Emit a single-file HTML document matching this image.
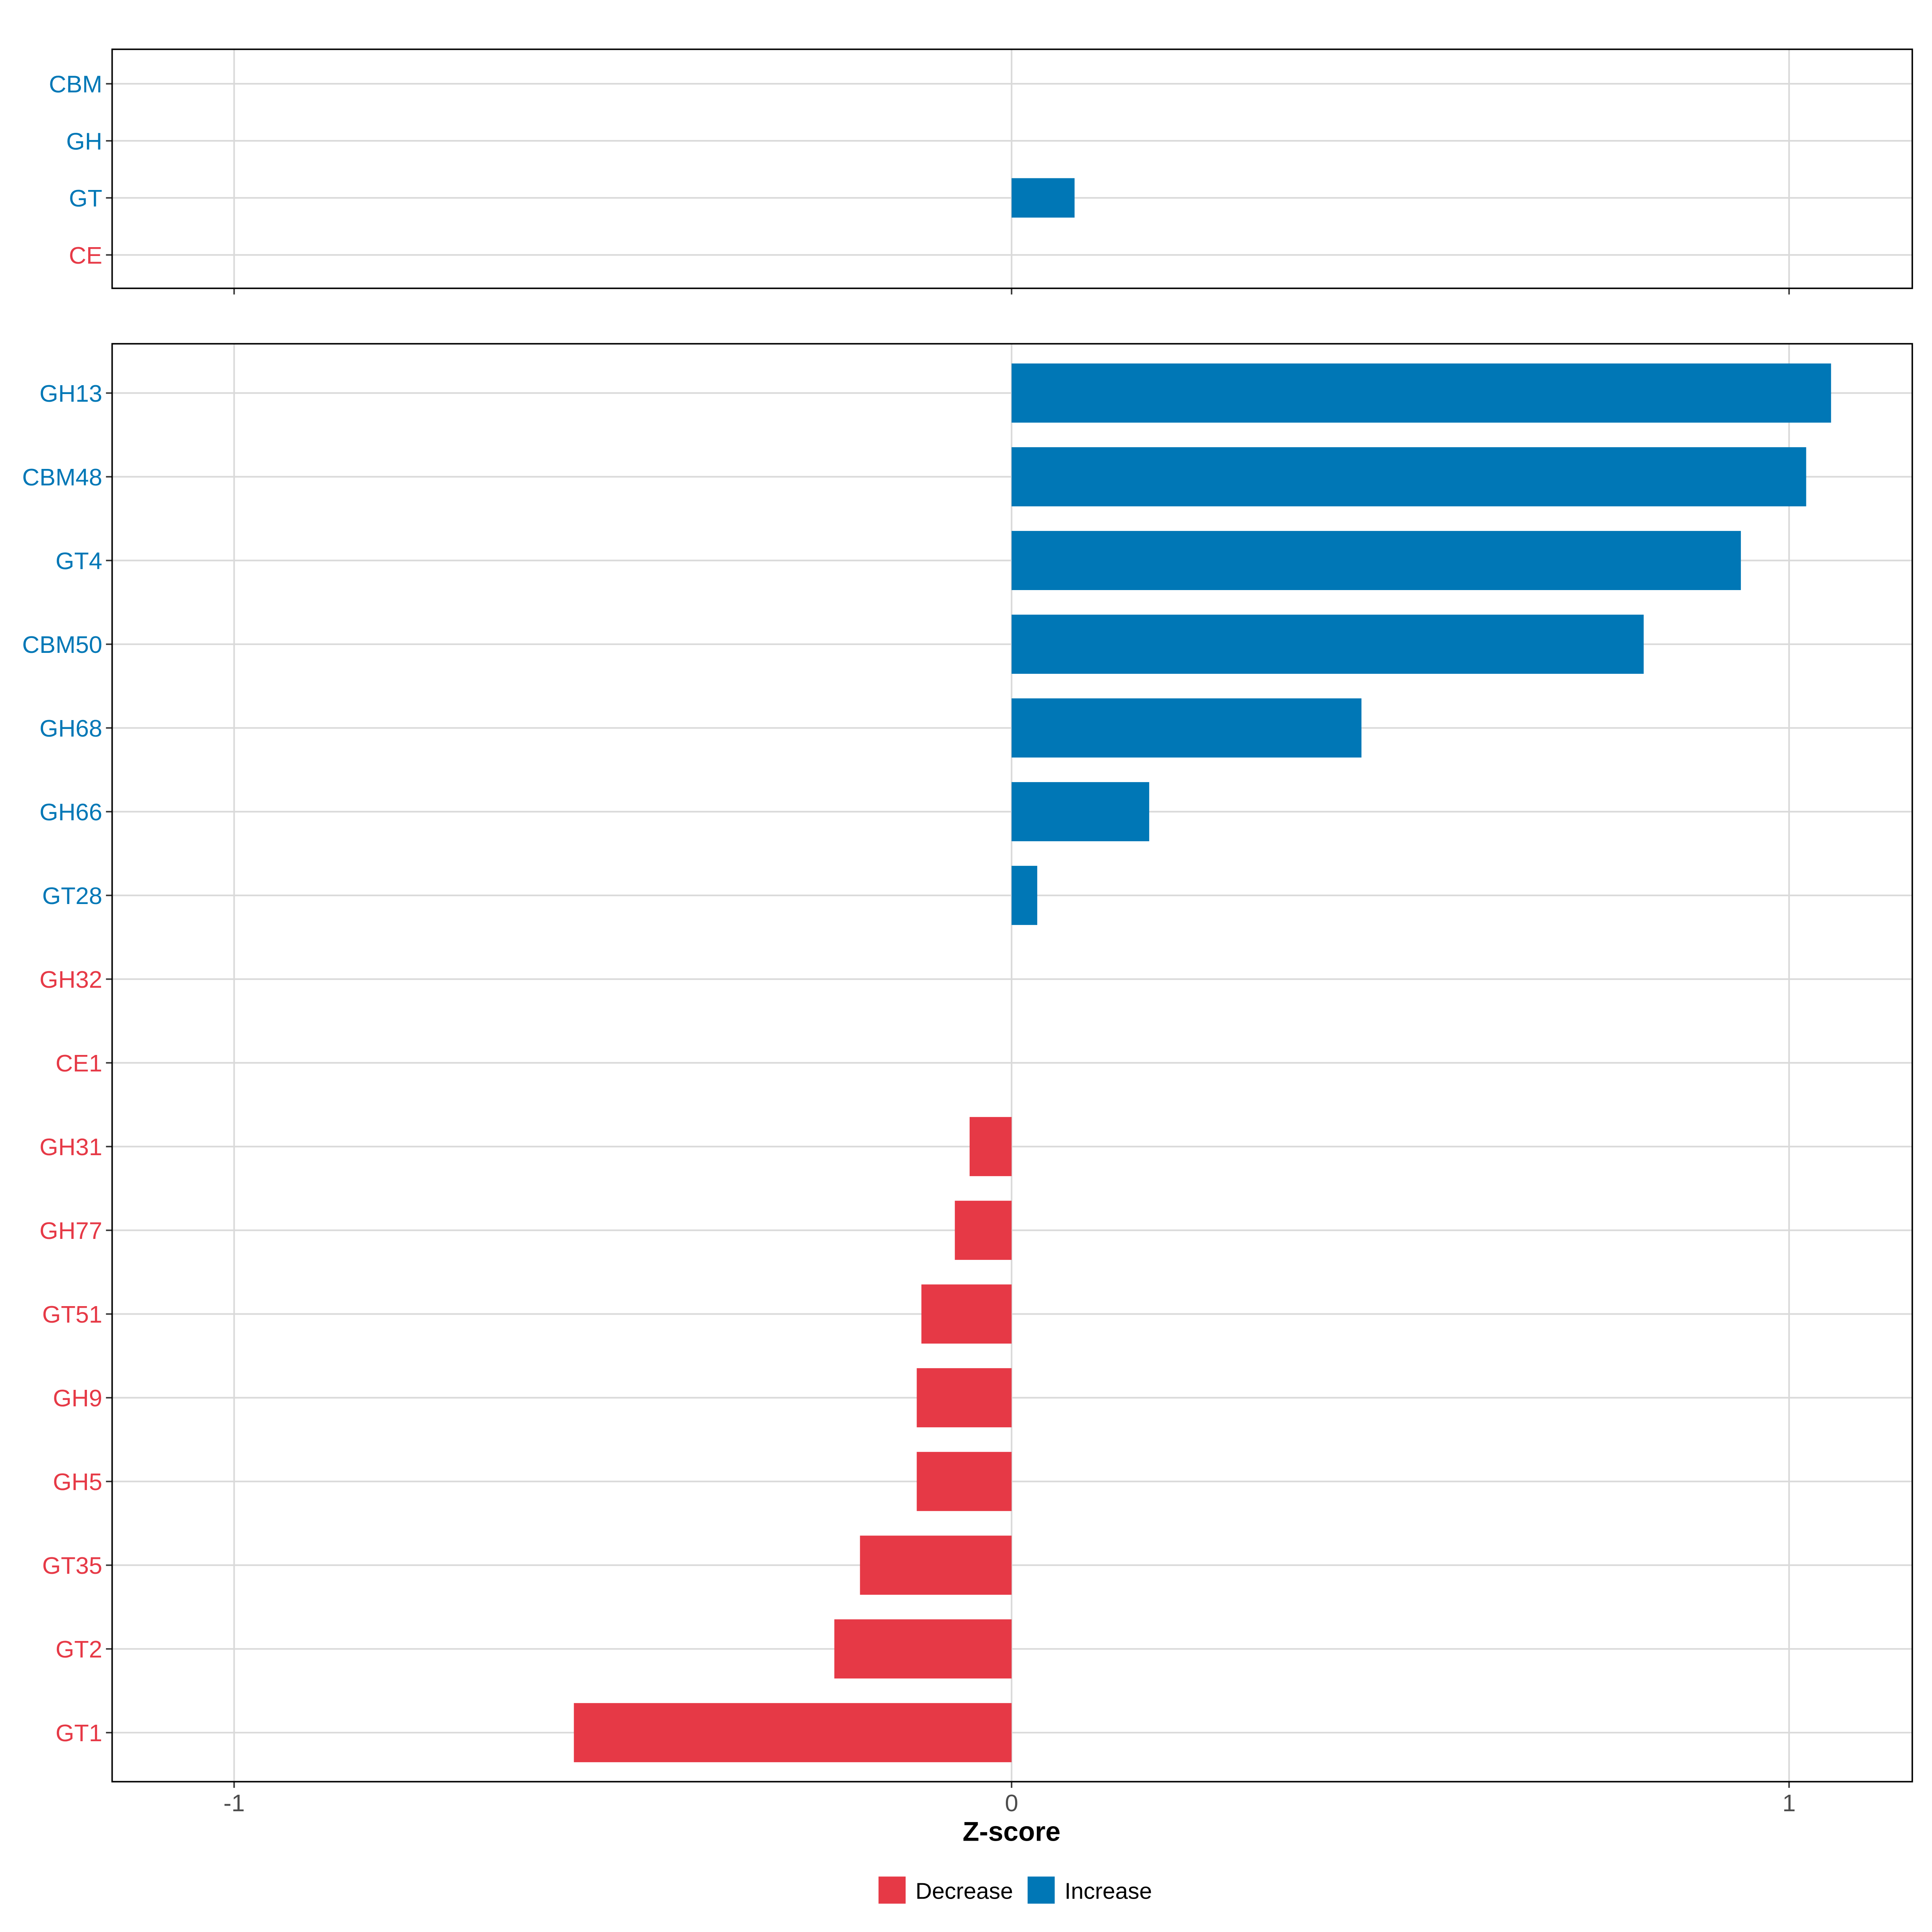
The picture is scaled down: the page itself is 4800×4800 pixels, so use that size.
<!DOCTYPE html>
<html><head><meta charset="utf-8"><style>
html,body{margin:0;padding:0;background:#fff}
svg{display:block}
text{font-family:"Liberation Sans",Arial,sans-serif}
</style></head><body>
<svg id="chart" width="4800" height="4800" viewBox="0 0 1568 1568" xmlns="http://www.w3.org/2000/svg"></svg>
<script>
const topCategories = ["CBM","GH","GT","CE"];
const topValues = [0, 0, 0.081, 0];
const topDirection = ["Increase","Increase","Increase","Decrease"];
const mainCategories = ["GH13","CBM48","GT4","CBM50","GH68","GH66","GT28","GH32","CE1","GH31","GH77","GT51","GH9","GH5","GT35","GT2","GT1"];
const mainValues = [1.054,1.022,0.938,0.813,0.450,0.177,0.033,0,0,-0.054,-0.073,-0.116,-0.122,-0.122,-0.195,-0.228,-0.563];
const mainDirection = ["Increase","Increase","Increase","Increase","Increase","Increase","Increase","Decrease","Decrease","Decrease","Decrease","Decrease","Decrease","Decrease","Decrease","Decrease","Decrease"];
const xTicks = [-1,0,1];
const xTickLabels = ["-1","0","1"];

const NS="http://www.w3.org/2000/svg";
const svg=document.getElementById('chart');
const colors={Increase:"#0077B6",Decrease:"#E63946"};
const X0=91,X1=1552;
const FS=19.5;
const xs=v=>821+v*631;
function el(tag,attrs,parent){const e=document.createElementNS(NS,tag);for(const k in attrs)e.setAttribute(k,attrs[k]);(parent||svg).appendChild(e);return e;}

function panel(name,top,bottom,cats,vals,dirs,yFirst,step,barH){
  const g=el('g',{});
  
  
  xTicks.forEach(t=>{const l=el('line',{x1:xs(t),x2:xs(t),y1:top,y2:bottom,stroke:"#d9d9d9","stroke-width":1.3},g);
    
    });
  cats.forEach((c,i)=>{const y=yFirst+i*step;
    const l=el('line',{x1:X0,x2:X1,y1:y,y2:y,stroke:"#d9d9d9","stroke-width":1.3},g);
    
    
    const v=vals[i];
    if(v!==0){
      const x=Math.min(xs(0),xs(v));const w=Math.abs(xs(v)-xs(0));
      const r=el('rect',{x:x,y:y-barH/2,width:w,height:barH,fill:colors[dirs[i]]},g);
      
      
    }
    const tk=el('line',{x1:X0-5,x2:X0,y1:y,y2:y,stroke:"#333","stroke-width":1.2},g);
    
    
    const t=el('text',{x:X0-8,y:y+7,"text-anchor":"end","font-size":FS,fill:colors[dirs[i]]},g);
    t.textContent=c;
    
    
  });
  xTicks.forEach(t=>{const l=el('line',{x1:xs(t),x2:xs(t),y1:bottom,y2:bottom+5,stroke:"#333","stroke-width":1.2},g);
    
    });
  const b=el('rect',{x:X0,y:top,width:X1-X0,height:bottom-top,fill:"none",stroke:"#000","stroke-width":1.2},g);
  
  
}
panel('top-panel',40,234,topCategories,topValues,topDirection,68,46.3,32);
panel('main-panel',279,1446,mainCategories,mainValues,mainDirection,319,67.95,48);

xTicks.forEach((t,i)=>{const tx=el('text',{x:xs(t),y:1470,"text-anchor":"middle","font-size":FS,fill:"#4d4d4d"});
  tx.textContent=xTickLabels[i];
  
  });
const title=el('text',{x:821,y:1494,"text-anchor":"middle","font-size":22,"font-weight":"bold",fill:"#000"});
title.textContent="Z-score";



const lg=el('g',{});


[["Decrease",713],["Increase",834]].forEach(([n,x])=>{
  const r=el('rect',{x:x,y:1523,width:22,height:22,fill:colors[n]},lg);
  
  
  const t=el('text',{x:x+30,y:1541,"font-size":18.5,fill:"#000"},lg);
  t.textContent=n;
  
  
});
</script>
</body></html>
